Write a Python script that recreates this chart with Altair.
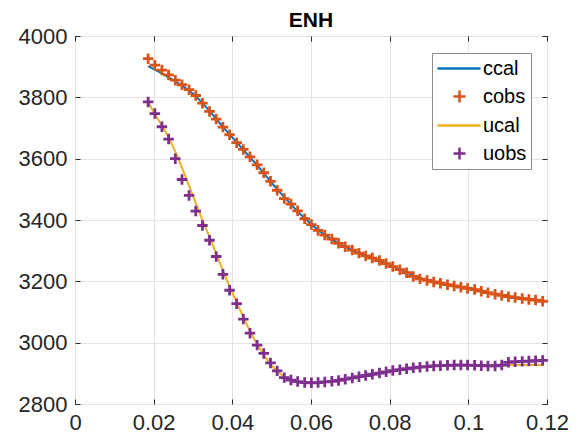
import altair as alt
import pandas as pd

x_vals = [0.0186, 0.0203, 0.0221, 0.0238, 0.0255, 0.0272, 0.0290, 0.0307, 0.0324, 0.0342,
          0.0359, 0.0376, 0.0393, 0.0411, 0.0428, 0.0445, 0.0463, 0.0480, 0.0497, 0.0514,
          0.0532, 0.0549, 0.0566, 0.0584, 0.0601, 0.0618, 0.0635, 0.0653, 0.0670, 0.0687,
          0.0705, 0.0722, 0.0739, 0.0756, 0.0774, 0.0791, 0.0808, 0.0826, 0.0843, 0.0860,
          0.0877, 0.0895, 0.0912, 0.0929, 0.0947, 0.0964, 0.0981, 0.0998, 0.1016, 0.1033,
          0.1050, 0.1068, 0.1085, 0.1102, 0.1119, 0.1137, 0.1154, 0.1171, 0.1189]

ccal = [3902, 3890, 3878, 3865, 3852, 3838, 3822, 3804, 3781, 3756,
        3730, 3704, 3679, 3653, 3629, 3604, 3579, 3553, 3526, 3500,
        3475, 3451, 3428, 3406, 3386, 3367, 3351, 3337, 3324, 3313,
        3302, 3292, 3283, 3275, 3267, 3258, 3249, 3239, 3229, 3219,
        3210, 3203, 3198, 3193, 3189, 3185, 3181, 3177, 3173, 3168,
        3163, 3158, 3154, 3150, 3147, 3144, 3141, 3138, 3135]

cobs = [3926, 3905, 3889, 3873, 3856, 3841, 3825, 3806, 3781, 3754,
        3729, 3703, 3678, 3652, 3630, 3606, 3580, 3554, 3526, 3497,
        3470, 3452, 3430, 3404, 3385, 3366, 3351, 3338, 3324, 3313,
        3302, 3292, 3283, 3276, 3268, 3258, 3248, 3238, 3228, 3216,
        3208, 3203, 3198, 3194, 3189, 3185, 3181, 3177, 3173, 3168,
        3163, 3158, 3154, 3150, 3147, 3144, 3141, 3139, 3135]

ucal = [3785, 3745, 3708, 3670, 3623, 3570, 3512, 3455, 3400, 3345,
        3290, 3236, 3183, 3132, 3083, 3037, 2995, 2960, 2930, 2906,
        2889, 2879, 2873, 2870, 2869, 2870, 2872, 2874, 2877, 2881,
        2885, 2889, 2893, 2897, 2901, 2905, 2909, 2912, 2915, 2918,
        2920, 2922, 2924, 2925, 2926, 2926, 2927, 2927, 2927, 2927,
        2927, 2927, 2927, 2927, 2927, 2927, 2927, 2927, 2927]

uobs = [3785, 3747, 3704, 3664, 3600, 3532, 3480, 3429, 3382, 3334,
        3281, 3223, 3171, 3127, 3077, 3031, 2992, 2965, 2934, 2908,
        2886, 2878, 2873, 2870, 2869, 2870, 2872, 2874, 2877, 2881,
        2885, 2889, 2893, 2897, 2901, 2905, 2909, 2912, 2915, 2918,
        2920, 2922, 2924, 2925, 2926, 2927, 2927, 2927, 2926, 2925,
        2924, 2924, 2927, 2936, 2938, 2939, 2940, 2941, 2942]

series_names = ["ccal", "cobs", "ucal", "uobs"]
series_colors = ["#0072BD", "#D95319", "#EDB120", "#7E2F8E"]
x_ticks = [0, 0.02, 0.04, 0.06, 0.08, 0.1, 0.12]
y_ticks = [2800, 3000, 3200, 3400, 3600, 3800, 4000]

PLUS = "M-1,0L1,0M0,-1L0,1"
LEG_LINE = "M-1,0L3.3,0"
LEG_PLUS = "M0.6,0L1.8,0M1.2,-0.6L1.2,0.6"
legend_shapes = [LEG_LINE, LEG_PLUS, LEG_LINE, LEG_PLUS]

FONT = "Liberation Sans, Arial, sans-serif"
INK = "#262626"

rows = []
for name, vals in zip(series_names, [ccal, cobs, ucal, uobs]):
    for xv, yv in zip(x_vals, vals):
        rows.append({"x": xv, "y": yv, "series": name})
df = pd.DataFrame(rows)

xscale = alt.Scale(domain=[0, 0.12], nice=False, zero=False)
yscale = alt.Scale(domain=[2800, 4000], nice=False, zero=False)
cscale = alt.Scale(domain=series_names, range=series_colors)

main_x = alt.X("x:Q", scale=xscale, axis=alt.Axis(
    orient="bottom", values=x_ticks, format=".2~g", title=None, grid=True,
    offset=-5, tickSize=5, labelPadding=8, domain=False, labelFlush=False))
main_y = alt.Y("y:Q", scale=yscale, axis=alt.Axis(
    orient="left", values=y_ticks, format="d", title=None, grid=True,
    offset=-5, tickSize=5, labelPadding=8, domain=False, labelFlush=False))

lines = alt.Chart(df).transform_filter(
    alt.FieldOneOfPredicate(field="series", oneOf=["ccal", "ucal"])
).mark_line(strokeWidth=2).encode(
    x=main_x, y=main_y,
    color=alt.Color("series:N", scale=cscale, legend=None),
    detail="series:N",
)

points = alt.Chart(df).transform_filter(
    alt.FieldOneOfPredicate(field="series", oneOf=["cobs", "uobs"])
).mark_point(shape=PLUS, filled=False, size=110, strokeWidth=2.8, opacity=1).encode(
    x=alt.X("x:Q", scale=xscale, axis=None),
    y=alt.Y("y:Q", scale=yscale, axis=None),
    color=alt.Color("series:N", scale=cscale, legend=None),
)

leg = alt.Legend(title=None, orient="none", legendX=357, legendY=17,
                 direction="vertical", padding=4, fillColor="white",
                 strokeColor="#8c8c8c", symbolSize=400, symbolStrokeWidth=2.5,
                 symbolOpacity=1, symbolFillColor="transparent",
                 labelFont=FONT, labelFontSize=20, labelColor="#000000",
                 labelOffset=24, rowPadding=6, cornerRadius=0)

ghost = alt.Chart(df).mark_point(opacity=0, filled=False).encode(
    x=alt.X("x:Q", scale=xscale, axis=alt.Axis(
        orient="top", values=x_ticks, labels=False, title=None, grid=False,
        offset=-5, tickSize=5, domain=False)),
    y=alt.Y("y:Q", scale=yscale, axis=alt.Axis(
        orient="right", values=y_ticks, labels=False, title=None, grid=False,
        offset=-5, tickSize=5, domain=False)),
    color=alt.Color("series:N", scale=cscale, legend=leg),
    shape=alt.Shape("series:N", scale=alt.Scale(domain=series_names, range=legend_shapes), legend=leg),
)

chart = alt.layer(lines, points, ghost).resolve_axis(
    x="independent", y="independent"
).resolve_legend(
    color="independent", shape="independent"
).properties(
    width=472, height=368,
    title=alt.TitleParams("ENH", font=FONT, fontSize=21, fontWeight="bold",
                          color="#000000", offset=-6, anchor="middle"),
    padding={"left": 18, "top": 10, "right": 10, "bottom": 5},
    background="white",
).configure_view(
    stroke=INK, strokeWidth=1
).configure_axis(
    labelFont=FONT, labelFontSize=22, labelColor=INK,
    tickColor=INK, tickWidth=1, gridColor="#e3e3e3", gridWidth=1,
)

chart.save("out.html", embed_options={"renderer": "svg", "actions": False})
